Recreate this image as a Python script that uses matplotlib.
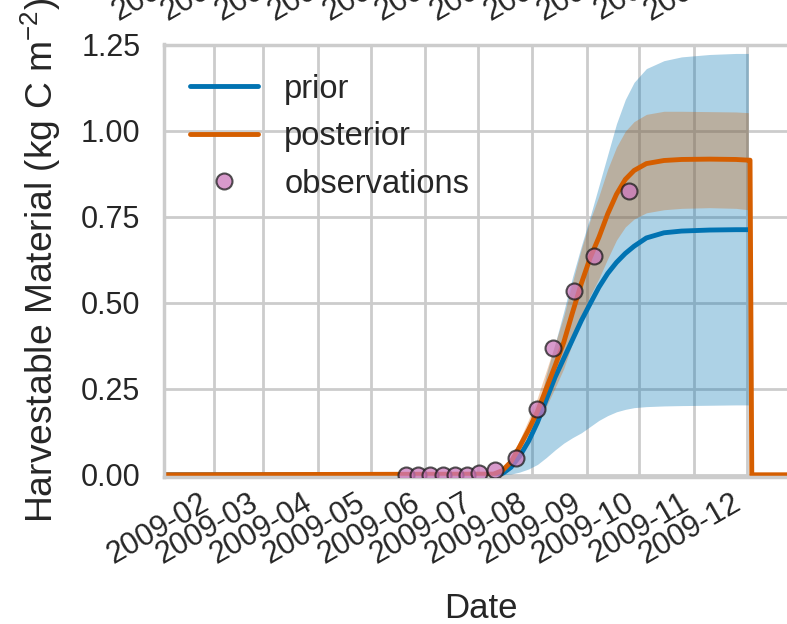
import matplotlib
matplotlib.use("Agg")
import matplotlib.pyplot as plt
import matplotlib.dates as mdates
import numpy as np
import seaborn as sns

# harvestable material, prior vs posterior run, 2009
curve_dates = ['2009-07-10', '2009-07-15', '2009-07-20', '2009-07-25', '2009-07-30',
               '2009-08-04', '2009-08-09', '2009-08-14', '2009-08-19', '2009-08-24',
               '2009-08-29', '2009-09-03', '2009-09-08', '2009-09-13', '2009-09-18',
               '2009-09-23', '2009-09-28', '2009-10-05', '2009-10-15', '2009-10-25',
               '2009-11-10', '2009-11-25', '2009-12-02']

prior_mean = [0.0, 0.003, 0.022, 0.055, 0.098, 0.152, 0.218, 0.283, 0.338, 0.393,
              0.448, 0.497, 0.545, 0.585, 0.617, 0.643, 0.664, 0.688, 0.703, 0.708,
              0.711, 0.712, 0.712]
prior_lo = [0.0, 0.0, 0.002, 0.008, 0.017, 0.03, 0.05, 0.072, 0.092, 0.108,
            0.122, 0.14, 0.158, 0.172, 0.183, 0.19, 0.195, 0.198, 0.2, 0.201,
            0.202, 0.203, 0.203]
prior_hi = [0.0, 0.006, 0.022, 0.06, 0.11, 0.18, 0.29, 0.38, 0.475, 0.575,
            0.665, 0.75, 0.84, 0.93, 1.02, 1.09, 1.14, 1.18, 1.203, 1.214,
            1.221, 1.224, 1.224]

post_mean = [0.002, 0.012, 0.038, 0.083, 0.131, 0.184, 0.250, 0.316, 0.385, 0.472,
             0.556, 0.630, 0.690, 0.758, 0.815, 0.858, 0.884, 0.904, 0.913, 0.916,
             0.917, 0.916, 0.914]
post_lo = [0.002, 0.009, 0.028, 0.063, 0.101, 0.144, 0.198, 0.252, 0.309, 0.384,
           0.456, 0.520, 0.570, 0.628, 0.682, 0.720, 0.743, 0.761, 0.770, 0.774,
           0.776, 0.774, 0.770]
post_hi = [0.002, 0.015, 0.048, 0.103, 0.161, 0.224, 0.302, 0.380, 0.461, 0.560,
           0.656, 0.740, 0.810, 0.888, 0.952, 0.998, 1.026, 1.047, 1.056, 1.056,
           1.055, 1.054, 1.052]

# flat zero before the season, harvest after early December
pre_dates = ['2009-01-01']
pre_vals = [0.0]
harvest_dates = ['2009-12-03', '2009-12-04', '2009-12-31']
harvest_vals = [0.914, 0.0, 0.0]

obs_dates = ['2009-05-21', '2009-05-28', '2009-06-04', '2009-06-11', '2009-06-18',
             '2009-06-25', '2009-07-02', '2009-07-11', '2009-07-23', '2009-08-04',
             '2009-08-13', '2009-08-25', '2009-09-05', '2009-09-25']
obs_vals = [0.0, 0.0, 0.0, 0.0, 0.0, 0.0, 0.005, 0.014, 0.049, 0.190,
            0.368, 0.534, 0.637, 0.823]

sns.set_theme(style='whitegrid', context='poster')
plt.rcParams['font.family'] = ['Liberation Sans', 'DejaVu Sans']
plt.rcParams['mathtext.fontset'] = 'custom'
plt.rcParams['mathtext.rm'] = 'Liberation Sans'
plt.rcParams['mathtext.it'] = 'Liberation Sans:italic'

blue = '#0173b2'
orange = '#d55e00'
pink = '#cc78bc'

cd = mdates.datestr2num(curve_dates)
line_dates = np.concatenate([mdates.datestr2num(pre_dates), cd])
post_dates = np.concatenate([line_dates, mdates.datestr2num(harvest_dates)])

W, H = 787, 624
fig = plt.figure(figsize=(W / 100, H / 100), dpi=100)
x0, x1 = mdates.datestr2num(['2009-01-03 11:00', '2009-12-30 12:00'])
px_day = 1.757
left = 164 / W
width = (x1 - x0) * px_day / W
ax = fig.add_axes([left, (H - 476.5) / H, width, 432 / H])

ax.fill_between(cd, prior_lo, prior_hi, color=blue, alpha=0.32, lw=0)
ax.fill_between(cd, post_lo, post_hi, color=orange, alpha=0.3, lw=0)
ax.plot(line_dates, pre_vals + prior_mean, color=blue, lw=3.5, label='prior')
ax.plot(post_dates, pre_vals + post_mean + harvest_vals, color=orange, lw=3.5,
        label='posterior')
ax.plot(mdates.datestr2num(obs_dates), obs_vals, 'o', ms=11.5, mfc=pink, mec='k',
        mew=1.5, alpha=0.75, label='observations', zorder=5)

ax.set_xlim(x0, x1)
ax.set_ylim(-0.005, 1.25)
ax.set_yticks([0, 0.25, 0.5, 0.75, 1.0, 1.25])
ax.yaxis.set_major_formatter(matplotlib.ticker.FormatStrFormatter('%.2f'))
ax.xaxis.set_major_locator(mdates.MonthLocator())
ax.xaxis.set_major_formatter(mdates.DateFormatter('%Y-%m'))
ax.tick_params(axis='both', labelsize=22, length=0)
ax.tick_params(axis='y', pad=17)
ax.tick_params(axis='x', pad=8)
for lab in ax.get_xticklabels():
    lab.set_rotation(30)
    lab.set_ha('right')
ax.set_xlabel('Date', fontsize=25, labelpad=16)
ax.set_ylabel('Harvestable Material (kg C m$^{-2}$)', fontsize=26.8, labelpad=13)
ax.legend(loc='upper left', frameon=False, fontsize=23.5, handlelength=2.1,
          bbox_to_anchor=(-0.006, 1.0))

# panel above shares the months, only its tick labels reach down here
top = fig.add_axes([left + 5 / W, 1 + 66 / H, width, 0.05])
top.set_xlim(x0, x1)
top.xaxis.set_major_locator(mdates.MonthLocator())
top.xaxis.set_major_formatter(mdates.DateFormatter('%Y-%m'))
top.tick_params(axis='x', labelsize=22, length=0, pad=8)
top.set_yticks([])
top.grid(False)
for s in top.spines.values():
    s.set_visible(False)
top.patch.set_alpha(0)
for lab in top.get_xticklabels():
    lab.set_rotation(30)
    lab.set_ha('right')

fig.savefig('out.png', dpi=100)
